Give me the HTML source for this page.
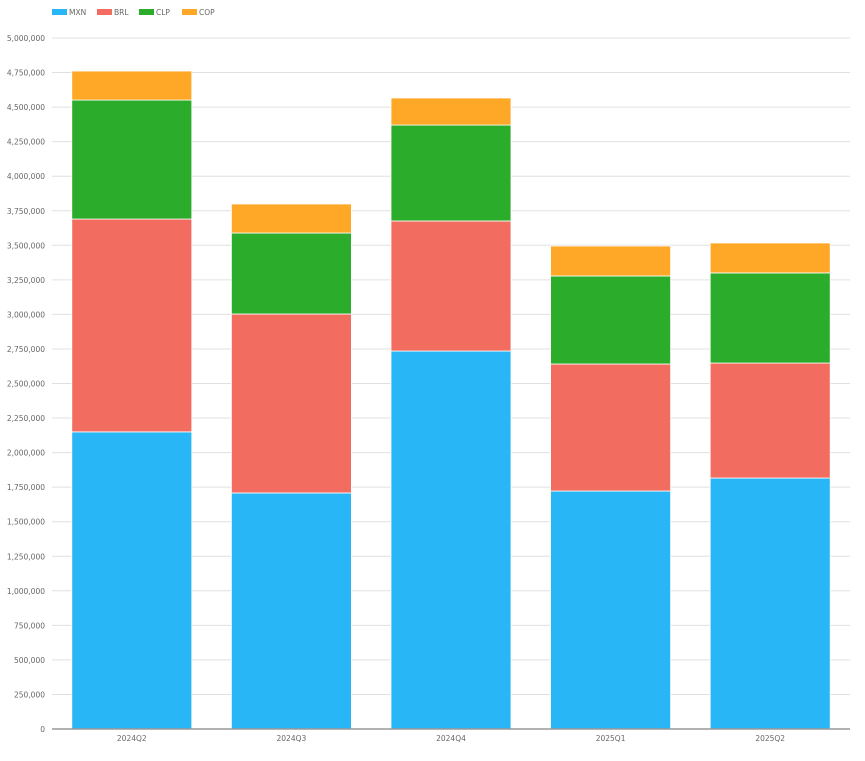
<!DOCTYPE html>
<html><head><meta charset="utf-8"><style>
body{margin:0;background:#fff;}
svg text{font-family:"DejaVu Sans",sans-serif;font-size:7.5px;fill:#666;}
</style></head><body>
<svg id="chart" width="865" height="756" xmlns="http://www.w3.org/2000/svg">
<g id="grid"></g>
<g id="bars"></g>
<g id="axes"></g>
<g id="legend"></g>
</svg>
<script>
const categories = ["2024Q2","2024Q3","2024Q4","2025Q1","2025Q2"];
const seriesNames = ["MXN","BRL","CLP","COP"];
const mxn = [2150000,1708000,2735000,1722000,1816000];
const brl = [1540000,1295000,941000,919000,832000];
const clp = [861000,586000,694000,637000,652000];
const cop = [210000,210000,196000,217000,217000];
const yTicks = [0,250000,500000,750000,1000000,1250000,1500000,1750000,2000000,2250000,2500000,2750000,3000000,3250000,3500000,3750000,4000000,4250000,4500000,4750000,5000000];
const colors = ["#29b6f6","#f26c5f","#2bac2b","#ffa726"];
const series=[mxn,brl,clp,cop];
const NS="http://www.w3.org/2000/svg";
const L=52,R=850,T=38,B=729,YMAX=5000000;
const y=v=>B-(v/YMAX)*(B-T);
const step=(R-L)/categories.length;
const x=i=>L+step*i+step/2;
const bw=120;
function mk(tag,attrs,parent){const e=document.createElementNS(NS,tag);for(const k in attrs)e.setAttribute(k,attrs[k]);parent.appendChild(e);return e;}
const grid=document.getElementById('grid'),axes=document.getElementById('axes'),bars=document.getElementById('bars'),leg=document.getElementById('legend');
yTicks.forEach(t=>{
 const ln=mk('line',{x1:L,x2:R,y1:y(t),y2:y(t),stroke:'#e0e0e0','stroke-width':1},grid);
 
 
 const tx=mk('text',{x:45,y:y(t)+3,'text-anchor':'end'},axes);
 tx.textContent=t.toLocaleString('en-US');
 
 
});
categories.forEach((c,i)=>{
 let base=0;
 series.forEach((s,j)=>{
  const r=mk('rect',{x:x(i)-bw/2,y:y(base+s[i]),width:bw,height:y(base)-y(base+s[i]),fill:colors[j],stroke:'#fff','stroke-width':0.8},bars);
  
  
  base+=s[i];
 });
 const tx=mk('text',{x:x(i),y:741,'text-anchor':'middle'},axes);
 tx.textContent=c;
 
 
});
const ax=mk('line',{x1:L,x2:R,y1:B,y2:B,stroke:'#999','stroke-width':1.5},axes);


const lx=[52,97,139,182];
seriesNames.forEach((n,j)=>{
 const g=mk('g',{},leg);
 
 
 mk('rect',{x:lx[j],y:9,width:15,height:6,fill:colors[j]},g);
 const t=mk('text',{x:lx[j]+17,y:15},g);
 t.textContent=n;
});
</script>
</body></html>
